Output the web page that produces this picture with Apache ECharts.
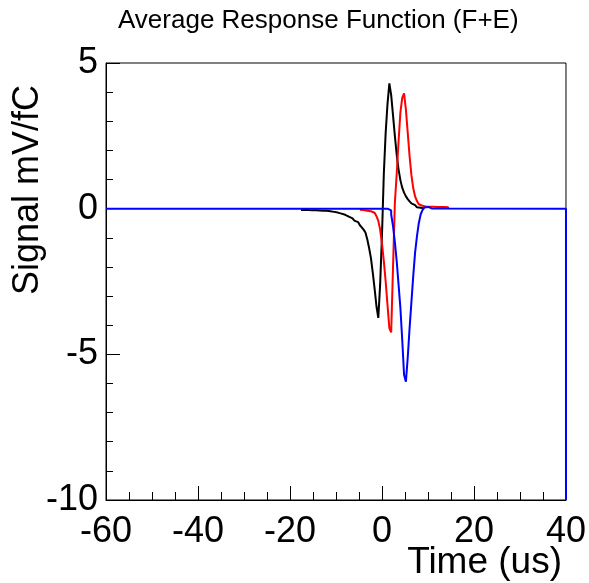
<!DOCTYPE html>
<html>
<head>
<meta charset="utf-8">
<script src="https://cdn.jsdelivr.net/npm/echarts@6/dist/echarts.min.js"></script>
<style>html,body{margin:0;padding:0;background:#fff}#c{width:589px;height:583px}</style>
</head>
<body>
<div id="c"></div>
<script>
// Histogram bin width (us)
const binW = 0.4;
// Black curve: first bin left edge and bin contents (mV/fC)
const blackStart = -17.6;
const blackVals = [-0.045,-0.045,-0.048,-0.05,-0.05,-0.052,-0.055,-0.057,-0.06,-0.062,-0.065,-0.068,-0.07,-0.072,
  -0.08,-0.09,-0.1,-0.11,-0.12,-0.135,-0.15,-0.17,-0.19,-0.21,-0.24,-0.27,-0.3,-0.33,-0.37,-0.41,-0.46,-0.51,
  -0.57,-0.64,-0.72,-0.82,-1.05,-1.35,-1.7,-2.2,-2.75,-3.35,-3.75,-2.6,-0.9,
  1.2,2.6,3.6,4.3,3.9,3.2,2.5,1.85,1.35,0.98,0.72,0.55,0.42,0.33,0.25,0.18,0.12,0.08,0.05,0.03,0.02,0.01];
// Red curve
const redStart = -4.8;
const redVals = [-0.04,-0.05,-0.06,-0.07,-0.08,-0.09,-0.11,-0.14,-0.18,-0.26,-0.42,-0.72,-1.2,-1.8,-2.5,-3.3,-4.1,-4.25,
  -2.0,0.2,1.2,2.3,3.3,3.8,3.96,3.4,2.6,1.8,1.15,0.7,0.42,0.26,0.15,0.1,0.08,0.07,0.07,0.07,0.07,0.065,0.065,
  0.06,0.06,0.06,0.055,0.055,0.05,0.05];
// Blue curve
const blueStart = 1.2;
const blueVals = [-0.02,-0.06,-0.2,-0.6,-1.15,-1.8,-2.6,-3.4,-4.5,-5.7,-5.94,-5.1,-4.1,-3.2,-2.3,-1.5,-0.95,-0.5,-0.2,-0.05,
  0.04,0.06,0.04,0.01];
const blueFlatFrom = [-60, 0];      // flat zero before the pulse
const blueEdgeDrop = [40, -10];     // line drawn down the right frame edge

const xTicks = {min: -60, max: 40, interval: 20};
const yTicks = {min: -10, max: 5, interval: 5};

function hist(start, vals, endVal) {
  const pts = vals.map((v, i) => [start + i * binW, v]);
  pts.push([start + vals.length * binW, endVal]);
  return pts;
}

const blackData = hist(blackStart, blackVals, 0);
const redData = hist(redStart, redVals, 0);
const blueData = [blueFlatFrom].concat(hist(blueStart, blueVals, 0), [blueEdgeDrop]);

const FONT = 'Liberation Sans, Arial, sans-serif';
const chart = echarts.init(document.getElementById('c'), null, {renderer: 'canvas'});
chart.setOption({
  animation: false,
  backgroundColor: '#fff',
  title: {
    text: 'Average Response Function (F+E)',
    left: 118, top: 8, padding: 0,
    textStyle: {fontFamily: FONT, fontSize: 26, fontWeight: 'normal', color: '#000'}
  },
  grid: {left: 106, right: 20, top: 63, bottom: 83, show: true, borderColor: '#000', borderWidth: 1, backgroundColor: 'transparent'},
  xAxis: {
    type: 'value', min: xTicks.min, max: xTicks.max, interval: xTicks.interval,
    axisLine: {onZero: false, lineStyle: {color: '#000', width: 1}},
    axisTick: {inside: true, length: 14, lineStyle: {color: '#000'}},
    minorTick: {show: true, splitNumber: 4, length: 8, lineStyle: {color: '#000'}},
    splitLine: {show: false},
    axisLabel: {fontFamily: FONT, fontSize: 36, color: '#000', margin: 14}
  },
  yAxis: {
    type: 'value', min: yTicks.min, max: yTicks.max, interval: yTicks.interval,
    axisLine: {onZero: false, lineStyle: {color: '#000', width: 1}},
    axisTick: {inside: true, length: 14, lineStyle: {color: '#000'}},
    minorTick: {show: true, splitNumber: 5, length: 7, lineStyle: {color: '#000'}},
    splitLine: {show: false},
    axisLabel: {fontFamily: FONT, fontSize: 36, color: '#000', margin: 8}
  },
  graphic: [
    {type: 'text', x: 562, y: 563, style: {text: 'Time (us)', font: '37px ' + FONT, fill: '#000', textAlign: 'right', textVerticalAlign: 'middle'}},
    {type: 'text', x: 28, y: 190, rotation: Math.PI / 2, style: {text: 'Signal mV/fC', font: '36px ' + FONT, fill: '#000', textAlign: 'center', textVerticalAlign: 'middle'}}
  ],
  series: [
    {type: 'line', step: 'end', data: blackData, showSymbol: false, lineStyle: {color: '#000', width: 2}, z: 2},
    {type: 'line', step: 'end', data: redData, showSymbol: false, lineStyle: {color: '#ff0000', width: 2}, z: 3},
    {type: 'line', step: 'end', data: blueData, showSymbol: false, lineStyle: {color: '#0000ff', width: 2}, z: 4}
  ]
});
</script>
</body>
</html>
